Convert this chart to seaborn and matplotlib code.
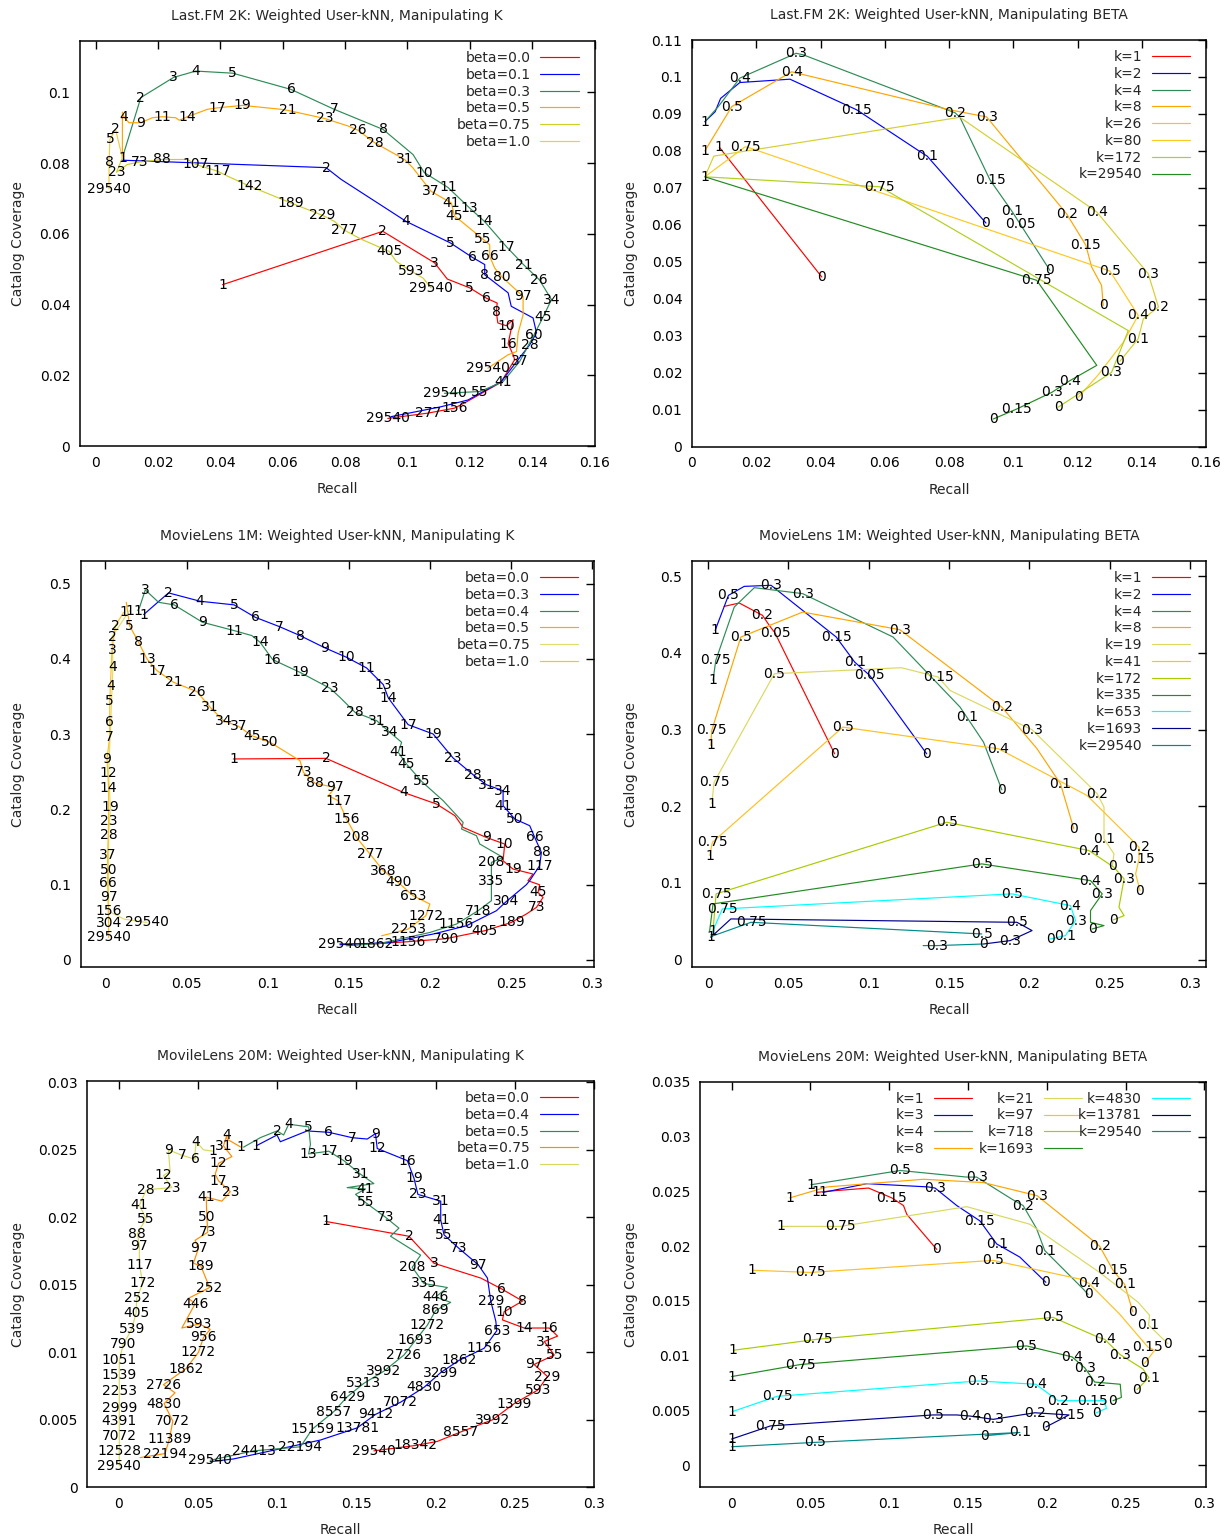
import matplotlib
matplotlib.use("Agg")
import matplotlib.pyplot as plt
import seaborn as sns
import pandas as pd
from matplotlib.ticker import FixedLocator, FuncFormatter
from matplotlib.legend import Legend

sns.set_style("white")
plt.rcParams['font.family'] = ['DejaVu Sans']

# ---------------- Panel 1: Last.FM 2K, manipulating K ----------------
P1_B00_X = [0.0407, 0.0921, 0.1087, 0.1128, 0.1200, 0.1253, 0.1288, 0.1285, 0.1290, 0.1317, 0.1339, 0.1323, 0.1339, 0.1344, 0.1300, 0.1190, 0.1151, 0.1066, 0.0937]
P1_B00_Y = [0.0456, 0.0607, 0.0518, 0.0472, 0.0447, 0.0418, 0.0404, 0.0380, 0.0348, 0.0340, 0.0357, 0.0289, 0.0258, 0.0244, 0.0180, 0.0125, 0.0107, 0.0093, 0.0078]
P1_B00_L = ['1', '2', '3', '', '5', '6', '', '8', '', '10', '', '16', '', '', '', '', '156', '277', '29540']

P1_B01_X = [0.0086, 0.0739, 0.0787, 0.0996, 0.1138, 0.1207, 0.1248, 0.1248, 0.1323, 0.1333, 0.1403, 0.1414, 0.1392, 0.1355, 0.1301, 0.1194, 0.1108, 0.0948]
P1_B01_Y = [0.0808, 0.0787, 0.0754, 0.0635, 0.0574, 0.0534, 0.0513, 0.0484, 0.0433, 0.0395, 0.0362, 0.0320, 0.0286, 0.0244, 0.0182, 0.0130, 0.0111, 0.0083]
P1_B01_L = ['', '2', '', '4', '5', '6', '', '8', '', '', '', '', '28', '', '', '', '', '']

P1_B03_X = [0.0086, 0.0145, 0.0250, 0.0321, 0.0440, 0.0627, 0.0765, 0.0922, 0.1018, 0.1054, 0.1130, 0.1198, 0.1247, 0.1317, 0.1372, 0.1423, 0.1462, 0.1436, 0.1406, 0.1360, 0.1307, 0.1232, 0.1119]
P1_B03_Y = [0.0815, 0.0985, 0.1042, 0.1060, 0.1054, 0.1008, 0.0952, 0.0895, 0.0824, 0.0773, 0.0731, 0.0674, 0.0635, 0.0564, 0.0513, 0.0470, 0.0414, 0.0366, 0.0314, 0.0239, 0.0182, 0.0154, 0.0149]
P1_B03_L = ['1', '2', '3', '4', '5', '6', '7', '8', '', '10', '11', '13', '14', '17', '21', '26', '34', '45', '60', '37', '41', '55', '29540']

P1_B05_X = [0.0086, 0.0086, 0.0091, 0.0107, 0.0145, 0.0182, 0.0214, 0.0257, 0.0268, 0.0295, 0.0359, 0.0391, 0.0471, 0.0594, 0.0616, 0.0734, 0.0809, 0.0841, 0.0894, 0.0991, 0.1017, 0.1076, 0.1141, 0.1151, 0.1173, 0.1242, 0.1264, 0.1264, 0.1280, 0.1303, 0.1371, 0.1371, 0.1355, 0.1350, 0.1323, 0.1258]
P1_B05_Y = [0.0815, 0.0944, 0.0931, 0.0914, 0.0914, 0.0928, 0.0931, 0.0928, 0.0921, 0.0931, 0.0952, 0.0956, 0.0963, 0.0952, 0.0949, 0.0926, 0.0905, 0.0893, 0.0858, 0.0810, 0.0787, 0.0720, 0.0687, 0.0650, 0.0635, 0.0585, 0.0569, 0.0536, 0.0503, 0.0478, 0.0423, 0.0371, 0.0319, 0.0267, 0.0258, 0.0220]
P1_B05_L = ['', '', '4', '', '9', '', '11', '', '', '14', '', '17', '19', '', '21', '23', '', '26', '28', '31', '', '37', '41', '45', '', '55', '', '66', '', '80', '97', '', '', '', '', '29540']

P1_B075_X = [0.0086, 0.0067, 0.0102, 0.0142, 0.0214, 0.0295, 0.0321, 0.0391, 0.0423, 0.0493, 0.0627, 0.0728, 0.0766, 0.0798, 0.0851, 0.0942, 0.0964, 0.1012, 0.1050, 0.1076]
P1_B075_Y = [0.0815, 0.0774, 0.0796, 0.0803, 0.0810, 0.0810, 0.0796, 0.0777, 0.0763, 0.0735, 0.0687, 0.0652, 0.0635, 0.0610, 0.0585, 0.0550, 0.0522, 0.0494, 0.0475, 0.0447]
P1_B075_L = ['', '23', '', '73', '88', '', '107', '117', '', '142', '189', '229', '', '277', '', '405', '', '593', '', '29540']

P1_B10_X = [0.0086, 0.0064, 0.0046, 0.0043, 0.0043, 0.0043]
P1_B10_Y = [0.0815, 0.0895, 0.0867, 0.0803, 0.0760, 0.0727]
P1_B10_L = ['', '2', '5', '8', '', '29540']

# ---------------- Panel 2: Last.FM 2K, manipulating BETA ----------------
P2_K1_X = [0.0085, 0.0404]
P2_K1_Y = [0.0810, 0.0459]
P2_K1_L = ['1', '0']

P2_K2_X = [0.0040, 0.0072, 0.0089, 0.0149, 0.0305, 0.0513, 0.0710, 0.0732, 0.0834, 0.0915]
P2_K2_Y = [0.0879, 0.0906, 0.0942, 0.0985, 0.0994, 0.0911, 0.0798, 0.0786, 0.0685, 0.0605]
P2_K2_L = ['1', '', '', '', '', '0.15', '', '0.1', '', '0']

P2_K4_X = [0.0040, 0.0082, 0.0149, 0.0324, 0.0346, 0.0819, 0.0834, 0.0928, 0.0995, 0.1021, 0.1114]
P2_K4_Y = [0.0879, 0.0920, 0.0997, 0.1064, 0.1060, 0.0903, 0.0891, 0.0721, 0.0638, 0.0603, 0.0477]
P2_K4_L = ['', '', '0.4', '0.3', '', '0.2', '', '0.15', '0.1', '0.05', '0']

P2_K8_X = [0.0040, 0.0124, 0.0310, 0.0803, 0.0917, 0.1166, 0.1226, 0.1244, 0.1275, 0.1280]
P2_K8_Y = [0.0800, 0.0920, 0.1014, 0.0911, 0.0892, 0.0630, 0.0545, 0.0486, 0.0436, 0.0382]
P2_K8_L = ['1', '0.5', '0.4', '', '0.3', '0.2', '0.15', '', '', '0']

P2_K26_X = [0.0040, 0.0068, 0.0834, 0.1260, 0.1420, 0.1452, 0.1405, 0.1389, 0.1332]
P2_K26_Y = [0.0730, 0.0786, 0.0891, 0.0635, 0.0468, 0.0378, 0.0346, 0.0292, 0.0231]
P2_K26_L = ['1', '', '', '0.4', '0.3', '0.2', '', '0.1', '0']

P2_K80_X = [0.0040, 0.0165, 0.0180, 0.1301, 0.1389, 0.1343, 0.1265, 0.1203]
P2_K80_Y = [0.0730, 0.0811, 0.0808, 0.0475, 0.0355, 0.0283, 0.0195, 0.0134]
P2_K80_L = ['', '0.75', '', '0.5', '0.4', '', '', '0']

P2_K172_X = [0.0040, 0.0585, 0.1358, 0.1306, 0.1140]
P2_K172_Y = [0.0730, 0.0703, 0.0314, 0.0201, 0.0107]
P2_K172_L = ['', '0.75', '', '0.3', '0']

P2_K29540_X = [0.0040, 0.1073, 0.1260, 0.1177, 0.1120, 0.1011, 0.0938]
P2_K29540_Y = [0.0730, 0.0450, 0.0220, 0.0179, 0.0147, 0.0102, 0.0075]
P2_K29540_L = ['', '0.75', '', '0.4', '0.3', '0.15', '0']

# ---------------- Panel 3: MovieLens 1M, manipulating K ----------------
P3_B00_X = [0.0789, 0.1359, 0.1835, 0.2040, 0.2153, 0.2204, 0.2347, 0.2460, 0.2450, 0.2511, 0.2634, 0.2603, 0.2675, 0.2665, 0.2696, 0.2655, 0.2593, 0.2501, 0.2337, 0.2097, 0.1863, 0.1667, 0.1445]
P3_B00_Y = [0.2669, 0.2677, 0.2225, 0.2070, 0.1915, 0.1759, 0.1626, 0.1538, 0.1316, 0.1206, 0.1140, 0.1051, 0.0997, 0.0895, 0.0828, 0.0695, 0.0608, 0.0496, 0.0386, 0.0280, 0.0240, 0.0213, 0.0213]
P3_B00_L = ['1', '2', '4', '5', '', '', '9', '10', '', '19', '', '', '', '45', '', '73', '', '189', '405', '790', '1156', '1862', '29540']

P3_B03_X = [0.0236, 0.0389, 0.0584, 0.0793, 0.0923, 0.1072, 0.1199, 0.1353, 0.1486, 0.1609, 0.1712, 0.1743, 0.1865, 0.2019, 0.2142, 0.2265, 0.2347, 0.2450, 0.2450, 0.2522, 0.2614, 0.2645, 0.2686, 0.2675, 0.2614, 0.2593, 0.2470, 0.2409, 0.2224, 0.2019, 0.1753, 0.1445]
P3_B03_Y = [0.4588, 0.4876, 0.4765, 0.4717, 0.4552, 0.4428, 0.4309, 0.4145, 0.4020, 0.3879, 0.3657, 0.3480, 0.3125, 0.3001, 0.2682, 0.2460, 0.2327, 0.2247, 0.2048, 0.1871, 0.1782, 0.1626, 0.1427, 0.1250, 0.1051, 0.0997, 0.0775, 0.0652, 0.0452, 0.0342, 0.0230, 0.0200]
P3_B03_L = ['1', '2', '4', '5', '6', '7', '8', '9', '10', '11', '13', '14', '17', '19', '23', '28', '31', '34', '41', '50', '', '66', '88', '117', '', '', '304', '', '', '', '', '']

P3_B04_X = [0.0199, 0.0211, 0.0246, 0.0328, 0.0424, 0.0598, 0.0793, 0.0902, 0.0953, 0.1031, 0.1199, 0.1384, 0.1445, 0.1538, 0.1671, 0.1753, 0.1825, 0.1804, 0.1855, 0.1948, 0.2081, 0.2204, 0.2194, 0.2286, 0.2306, 0.2450, 0.2378, 0.2378, 0.2378, 0.2296, 0.2163, 0.1999, 0.1691, 0.1486]
P3_B04_Y = [0.4641, 0.4685, 0.4916, 0.4751, 0.4717, 0.4486, 0.4375, 0.4309, 0.4220, 0.3989, 0.3820, 0.3608, 0.3488, 0.3289, 0.3178, 0.3023, 0.2890, 0.2757, 0.2602, 0.2371, 0.2114, 0.1826, 0.1738, 0.1649, 0.1539, 0.1360, 0.1294, 0.1041, 0.0785, 0.0652, 0.0475, 0.0363, 0.0217, 0.0186]
P3_B04_L = ['1', '', '3', '', '6', '9', '11', '', '14', '16', '19', '23', '', '28', '31', '34', '', '41', '45', '55', '', '', '', '', '', '', '208', '335', '', '718', '1156', '', '', '']

P3_B05_X = [0.0129, 0.0149, 0.0205, 0.0256, 0.0318, 0.0420, 0.0564, 0.0646, 0.0728, 0.0820, 0.0902, 0.1015, 0.1199, 0.1220, 0.1292, 0.1415, 0.1374, 0.1435, 0.1486, 0.1547, 0.1630, 0.1712, 0.1804, 0.1896, 0.1999, 0.1974, 0.1865, 0.1702]
P3_B05_Y = [0.4752, 0.4441, 0.4220, 0.3999, 0.3843, 0.3688, 0.3564, 0.3355, 0.3178, 0.3103, 0.2979, 0.2890, 0.2646, 0.2491, 0.2345, 0.2291, 0.2180, 0.2114, 0.1871, 0.1626, 0.1406, 0.1184, 0.1028, 0.0851, 0.0741, 0.0585, 0.0408, 0.0319]
P3_B05_L = ['', '5', '8', '13', '17', '21', '26', '31', '34', '37', '45', '50', '', '73', '88', '97', '', '117', '156', '208', '277', '368', '490', '653', '', '1272', '2253', '']

P3_B075_X = [0.0149, 0.0041, 0.0047, 0.0020, 0.0031, 0.0020, 0.0020, 0.0020, 0.0020, 0.0082, 0.0113, 0.0256]
P3_B075_Y = [0.4641, 0.4295, 0.3896, 0.2478, 0.2025, 0.1662, 0.1193, 0.0829, 0.0643, 0.0580, 0.0541, 0.0496]
P3_B075_L = ['1', '2', '4', '12', '19', '28', '50', '97', '156', '', '', '29540']

P3_B10_X = [0.0113, 0.0062, 0.0041, 0.0031, 0.0027, 0.0027, 0.0027, 0.0010, 0.0020, 0.0020, 0.0014, 0.0014, 0.0020, 0.0020]
P3_B10_Y = [0.4619, 0.4441, 0.4118, 0.3644, 0.3435, 0.3165, 0.2965, 0.2669, 0.2283, 0.1839, 0.1396, 0.1015, 0.0483, 0.0297]
P3_B10_L = ['1', '2', '3', '4', '5', '6', '7', '9', '14', '23', '37', '66', '304', '29540']

# ---------------- Panel 4: MovieLens 1M, manipulating BETA ----------------
P4_K1_X = [0.0100, 0.0194, 0.0339, 0.0381, 0.0417, 0.0788]
P4_K1_Y = [0.4608, 0.4652, 0.4491, 0.4360, 0.4260, 0.2685]
P4_K1_L = ['', '', '0.2', '', '0.05', '0']

P4_K2_X = [0.0044, 0.0127, 0.0225, 0.0392, 0.0798, 0.0913, 0.1006, 0.1361]
P4_K2_Y = [0.4295, 0.4752, 0.4869, 0.4883, 0.4208, 0.3881, 0.3708, 0.2685]
P4_K2_L = ['1', '0.5', '', '0.3', '0.15', '0.1', '0.05', '0']

P4_K4_X = [0.0031, 0.0048, 0.0163, 0.0288, 0.0589, 0.1152, 0.1569, 0.1611, 0.1715, 0.1829]
P4_K4_Y = [0.3642, 0.3903, 0.4599, 0.4852, 0.4774, 0.4208, 0.3294, 0.3163, 0.2837, 0.2215]
P4_K4_L = ['1', '0.75', '', '', '0.3', '', '', '0.1', '', '0']

P4_K8_X = [0.0017, 0.0023, 0.0204, 0.0589, 0.1194, 0.1569, 0.1829, 0.2048, 0.2194, 0.2277]
P4_K8_Y = [0.2794, 0.2990, 0.4208, 0.4534, 0.4304, 0.3708, 0.3294, 0.2751, 0.2294, 0.1706]
P4_K8_L = ['1', '0.75', '0.5', '', '0.3', '', '0.2', '', '0.1', '0']

P4_K19_X = [0.0023, 0.0038, 0.0413, 0.1204, 0.1433, 0.1506, 0.2017, 0.2360, 0.2423, 0.2465, 0.2465, 0.2527, 0.2517]
P4_K19_Y = [0.2033, 0.2315, 0.3730, 0.3808, 0.3686, 0.3512, 0.2999, 0.2294, 0.2163, 0.1989, 0.1576, 0.1380, 0.1227]
P4_K19_L = ['1', '0.75', '0.5', '', '0.15', '', '0.3', '', '0.2', '', '0.1', '', '0']

P4_K41_X = [0.0010, 0.0027, 0.0839, 0.1506, 0.1808, 0.2360, 0.2642, 0.2683, 0.2683, 0.2662, 0.2689]
P4_K41_Y = [0.1358, 0.1531, 0.3033, 0.2837, 0.2751, 0.2141, 0.1554, 0.1466, 0.1315, 0.1119, 0.0901]
P4_K41_L = ['1', '0.75', '0.5', '', '0.4', '', '', '0.2', '0.15', '', '0']

P4_K172_X = [0.0031, 0.0050, 0.1486, 0.2371, 0.2527, 0.2590, 0.2558, 0.2590, 0.2523]
P4_K172_Y = [0.0380, 0.0858, 0.1792, 0.1423, 0.1205, 0.1053, 0.0683, 0.0574, 0.0518]
P4_K172_L = ['1', '0.75', '0.5', '0.4', '', '0.3', '', '', '0']

P4_K335_X = [0.0010, 0.0031, 0.1704, 0.2381, 0.2454, 0.2381, 0.2381, 0.2465, 0.2392]
P4_K335_Y = [0.0379, 0.0727, 0.1249, 0.1031, 0.0858, 0.0640, 0.0487, 0.0444, 0.0400]
P4_K335_L = ['', '', '0.5', '0.4', '0.3', '', '', '', '0']

P4_K653_X = [0.0017, 0.0089, 0.1892, 0.2256, 0.2288, 0.2225, 0.2131]
P4_K653_Y = [0.0313, 0.0661, 0.0858, 0.0705, 0.0509, 0.0313, 0.0270]
P4_K653_L = ['', '0.75', '0.5', '0.4', '0.3', '0.1', '0']

P4_K1693_X = [0.0017, 0.0142, 0.1923, 0.2017, 0.1881, 0.1715]
P4_K1693_Y = [0.0291, 0.0531, 0.0487, 0.0379, 0.0248, 0.0204]
P4_K1693_L = ['1', '', '0.5', '', '0.3', '0']

P4_K29540_X = [0.0017, 0.0267, 0.1704]
P4_K29540_Y = [0.0300, 0.0487, 0.0335]
P4_K29540_L = ['', '0.75', '0.5']
P4_K29540B_X = [0.1339, 0.1423, 0.1715]
P4_K29540B_Y = [0.0183, 0.0183, 0.0204]
P4_K29540B_L = ['', '0.3', '']

# ---------------- Panel 5: MovieLens 20M, manipulating K ----------------
P5_B00_X = [0.1304, 0.1831, 0.1989, 0.2285, 0.2416, 0.2549, 0.2432, 0.2422, 0.2559, 0.2717, 0.2770, 0.2686, 0.2749, 0.2622, 0.2707, 0.2644, 0.2496, 0.2359, 0.2158, 0.2011, 0.1873, 0.1610]
P5_B00_Y = [0.0197, 0.0186, 0.0166, 0.0155, 0.0147, 0.0138, 0.0130, 0.0124, 0.0118, 0.0118, 0.0112, 0.0108, 0.0098, 0.0091, 0.0082, 0.0072, 0.0062, 0.0050, 0.0041, 0.0034, 0.0031, 0.0027]
P5_B00_L = ['1', '2', '3', '', '6', '8', '10', '', '14', '16', '', '31', '55', '97', '229', '593', '1399', '3992', '8557', '', '18342', '29540']

P5_B04_X = [0.0867, 0.0998, 0.1019, 0.1188, 0.1325, 0.1473, 0.1568, 0.1620, 0.1631, 0.1821, 0.1863, 0.1888, 0.2032, 0.2032, 0.2053, 0.2147, 0.2268, 0.2327, 0.2348, 0.2380, 0.2386, 0.2306, 0.2147, 0.2032, 0.1926, 0.1778, 0.1620, 0.1504, 0.1272, 0.0723, 0.0576]
P5_B04_Y = [0.0253, 0.0261, 0.0256, 0.0264, 0.0263, 0.0259, 0.0258, 0.0262, 0.0251, 0.0242, 0.0229, 0.0217, 0.0212, 0.0198, 0.0187, 0.0177, 0.0165, 0.0155, 0.0138, 0.0123, 0.0116, 0.0103, 0.0094, 0.0085, 0.0074, 0.0063, 0.0054, 0.0044, 0.0035, 0.0021, 0.0019]
P5_B04_L = ['1', '', '', '', '6', '7', '', '9', '12', '16', '19', '23', '31', '41', '55', '73', '97', '', '229', '', '653', '1156', '1862', '3299', '4830', '7072', '9412', '13781', '', '', '']

P5_B05_X = [0.0787, 0.0892, 0.0998, 0.1040, 0.1072, 0.1198, 0.1209, 0.1198, 0.1325, 0.1420, 0.1525, 0.1610, 0.1441, 0.1557, 0.1494, 0.1557, 0.1684, 0.1768, 0.1715, 0.1905, 0.1852, 0.1926, 0.2074, 0.2000, 0.2095, 0.2000, 0.1947, 0.1873, 0.1800, 0.1673, 0.1546, 0.1441, 0.1356, 0.1220, 0.1146, 0.0850, 0.0576]
P5_B05_Y = [0.0252, 0.0259, 0.0264, 0.0261, 0.0269, 0.0267, 0.0254, 0.0247, 0.0249, 0.0242, 0.0232, 0.0225, 0.0222, 0.0221, 0.0217, 0.0211, 0.0200, 0.0192, 0.0186, 0.0172, 0.0163, 0.0151, 0.0148, 0.0141, 0.0137, 0.0131, 0.0120, 0.0109, 0.0098, 0.0086, 0.0077, 0.0067, 0.0056, 0.0043, 0.0030, 0.0027, 0.0020]
P5_B05_L = ['', '', '2', '', '4', '5', '', '13', '17', '19', '31', '', '', '41', '', '55', '73', '', '', '', '208', '335', '', '446', '', '869', '1272', '1693', '2726', '3992', '5313', '6429', '8557', '15159', '22194', '24413', '29540']

P5_B075_X = [0.0770, 0.0682, 0.0682, 0.0660, 0.0713, 0.0629, 0.0608, 0.0629, 0.0703, 0.0650, 0.0551, 0.0555, 0.0561, 0.0481, 0.0502, 0.0470, 0.0517, 0.0555, 0.0572, 0.0439, 0.0481, 0.0397, 0.0508, 0.0576, 0.0534, 0.0502, 0.0424, 0.0281, 0.0354, 0.0285, 0.0340, 0.0319, 0.0291, 0.0133]
P5_B075_Y = [0.0252, 0.0258, 0.0261, 0.0253, 0.0245, 0.0240, 0.0232, 0.0227, 0.0219, 0.0212, 0.0215, 0.0200, 0.0189, 0.0183, 0.0177, 0.0166, 0.0164, 0.0153, 0.0148, 0.0140, 0.0136, 0.0118, 0.0121, 0.0117, 0.0111, 0.0100, 0.0088, 0.0076, 0.0070, 0.0062, 0.0049, 0.0036, 0.0025, 0.0022]
P5_B075_L = ['1', '', '4', '31', '', '12', '', '17', '23', '', '41', '50', '73', '', '97', '', '189', '', '252', '', '446', '', '593', '', '956', '1272', '1862', '2726', '', '4830', '7072', '11389', '22194', '']

P5_B10_X = [0.0593, 0.0534, 0.0487, 0.0481, 0.0481, 0.0397, 0.0312, 0.0323, 0.0281, 0.0334, 0.0228, 0.0171, 0.0129, 0.0171, 0.0116, 0.0129, 0.0129, 0.0150, 0.0112, 0.0108, 0.0080, 0.0027, 0.0002, 0.0002, 0.0002, 0.0002, 0.0002, 0.0002, 0.0002, 0.0002]
P5_B10_Y = [0.0249, 0.0250, 0.0256, 0.0248, 0.0243, 0.0246, 0.0250, 0.0234, 0.0231, 0.0222, 0.0221, 0.0220, 0.0209, 0.0199, 0.0188, 0.0179, 0.0165, 0.0151, 0.0140, 0.0129, 0.0117, 0.0106, 0.0094, 0.0083, 0.0071, 0.0059, 0.0049, 0.0038, 0.0027, 0.0016]
P5_B10_L = ['1', '', '4', '', '6', '7', '9', '', '12', '23', '', '28', '41', '55', '88', '97', '117', '172', '252', '405', '539', '790', '1051', '1539', '2253', '2999', '4391', '7072', '12528', '29540']

# ---------------- Panel 6: MovieLens 20M, manipulating BETA ----------------
P6_K1_X = [0.0538, 0.0606, 0.0869, 0.1017, 0.1091, 0.1112, 0.1302]
P6_K1_Y = [0.0249, 0.0250, 0.0253, 0.0244, 0.0237, 0.0229, 0.0197]
P6_K1_L = ['1', '', '', '0.15', '', '', '0']

P6_K3_X = [0.0580, 0.0859, 0.1249, 0.1291, 0.1429, 0.1576, 0.1682, 0.1829, 0.1994]
P6_K3_Y = [0.0249, 0.0257, 0.0254, 0.0253, 0.0237, 0.0223, 0.0202, 0.0190, 0.0167]
P6_K3_L = ['1', '', '', '0.3', '', '0.15', '0.1', '', '0']

P6_K4_X = [0.0504, 0.1070, 0.1492, 0.1555, 0.1777, 0.1850, 0.1935, 0.1987, 0.2230, 0.2262]
P6_K4_Y = [0.0256, 0.0269, 0.0263, 0.0263, 0.0243, 0.0237, 0.0216, 0.0196, 0.0161, 0.0156]
P6_K4_L = ['1', '0.5', '', '0.3', '', '0.2', '', '0.1', '', '0']

P6_K8_X = [0.0369, 0.0606, 0.1217, 0.1597, 0.1939, 0.2293, 0.2335, 0.2420, 0.2494, 0.2546]
P6_K8_Y = [0.0244, 0.0254, 0.0261, 0.0258, 0.0246, 0.0205, 0.0200, 0.0178, 0.0165, 0.0140]
P6_K8_L = ['1', '', '', '', '0.3', '', '0.2', '0.15', '0.1', '0']

P6_K21_X = [0.0315, 0.0690, 0.1449, 0.1492, 0.1892, 0.2335, 0.2578, 0.2652, 0.2646, 0.2768]
P6_K21_Y = [0.0218, 0.0218, 0.0235, 0.0236, 0.0220, 0.0176, 0.0149, 0.0137, 0.0128, 0.0111]
P6_K21_L = ['1', '0.75', '', '', '', '', '', '', '0.1', '0']

P6_K97_X = [0.0131, 0.0500, 0.1660, 0.2209, 0.2268, 0.2462, 0.2641, 0.2684, 0.2620]
P6_K97_Y = [0.0178, 0.0176, 0.0187, 0.0170, 0.0166, 0.0138, 0.0108, 0.0105, 0.0093]
P6_K97_L = ['1', '0.75', '0.5', '', '0.4', '', '0.15', '', '0']

P6_K718_X = [0.0011, 0.0542, 0.2040, 0.2325, 0.2367, 0.2466, 0.2610, 0.2647, 0.2572]
P6_K718_Y = [0.0105, 0.0115, 0.0135, 0.0117, 0.0115, 0.0101, 0.0088, 0.0080, 0.0069]
P6_K718_L = ['1', '0.75', '0.5', '', '0.4', '0.3', '', '0.1', '0']

P6_K1693_X = [0.0000, 0.0437, 0.1871, 0.2160, 0.2241, 0.2304, 0.2466, 0.2473, 0.2420]
P6_K1693_Y = [0.0081, 0.0092, 0.0109, 0.0099, 0.0089, 0.0076, 0.0074, 0.0062, 0.0059]
P6_K1693_L = ['1', '0.75', '0.5', '0.4', '0.3', '0.2', '', '', '0']

P6_K4830_X = [0.0004, 0.0289, 0.1565, 0.1930, 0.2072, 0.2293, 0.2367, 0.2378, 0.2315]
P6_K4830_Y = [0.0049, 0.0063, 0.0077, 0.0074, 0.0059, 0.0059, 0.0059, 0.0052, 0.0048]
P6_K4830_L = ['1', '0.75', '0.5', '0.4', '0.2', '0.15', '', '', '0']

P6_K13781_X = [0.0000, 0.0247, 0.1277, 0.1428, 0.1513, 0.1660, 0.1924, 0.2141, 0.1994]
P6_K13781_Y = [0.0024, 0.0036, 0.0046, 0.0046, 0.0045, 0.0042, 0.0048, 0.0046, 0.0035]
P6_K13781_L = ['1', '0.75', '0.5', '', '0.4', '0.3', '0.2', '0.15', '0']

P6_K29540_X = [0.0000, 0.0532, 0.1829, 0.1608]
P6_K29540_Y = [0.0017, 0.0021, 0.0030, 0.0027]
P6_K29540_L = ['1', '0.5', '0.1', '0']

# ---------------- colours ----------------
RED, BLUE, SEAGREEN, ORANGE = '#ff0000', '#0000ff', '#2e8b57', '#ffa500'

FIG_W, FIG_H = 1231, 1537


def rect(l, t, r, b):
    return [l / FIG_W, 1 - b / FIG_H, (r - l) / FIG_W, (b - t) / FIG_H]


panels = [
    dict(rect=rect(80, 41, 594.5, 446), title="Last.FM 2K: Weighted User-kNN, Manipulating K",
         xlim=(-0.005, 0.16), ylim=(0, 0.1145), xstep=0.02, ystep=0.02, ylab_dx=-55, legcols=None,
         series=[("beta=0.0", P1_B00_X, P1_B00_Y, P1_B00_L, RED),
                 ("beta=0.1", P1_B01_X, P1_B01_Y, P1_B01_L, BLUE),
                 ("beta=0.3", P1_B03_X, P1_B03_Y, P1_B03_L, SEAGREEN),
                 ("beta=0.5", P1_B05_X, P1_B05_Y, P1_B05_L, ORANGE),
                 ("beta=0.75", P1_B075_X, P1_B075_Y, P1_B075_L, '#cfcf2a'),
                 ("beta=1.0", P1_B10_X, P1_B10_Y, P1_B10_L, '#f0cc40')]),
    dict(rect=rect(692, 40, 1206, 446.7), title="Last.FM 2K: Weighted User-kNN, Manipulating BETA",
         xlim=(0, 0.16), ylim=(0, 0.11), xstep=0.02, ystep=0.01, ylab_dx=-54, legcols=None,
         series=[("k=1", P2_K1_X, P2_K1_Y, P2_K1_L, RED),
                 ("k=2", P2_K2_X, P2_K2_Y, P2_K2_L, BLUE),
                 ("k=4", P2_K4_X, P2_K4_Y, P2_K4_L, SEAGREEN),
                 ("k=8", P2_K8_X, P2_K8_Y, P2_K8_L, ORANGE),
                 ("k=26", P2_K26_X, P2_K26_Y, P2_K26_L, '#d4d030'),
                 ("k=80", P2_K80_X, P2_K80_Y, P2_K80_L, '#ffc820'),
                 ("k=172", P2_K172_X, P2_K172_Y, P2_K172_L, '#b0d020'),
                 ("k=29540", P2_K29540_X, P2_K29540_Y, P2_K29540_L, '#228b22')]),
    dict(rect=rect(81, 561, 594, 967.3), title="MovieLens 1M: Weighted User-kNN, Manipulating K",
         xlim=(-0.015, 0.301), ylim=(-0.01, 0.53), xstep=0.05, ystep=0.1, ylab_dx=-56, legcols=None,
         series=[("beta=0.0", P3_B00_X, P3_B00_Y, P3_B00_L, RED),
                 ("beta=0.3", P3_B03_X, P3_B03_Y, P3_B03_L, BLUE),
                 ("beta=0.4", P3_B04_X, P3_B04_Y, P3_B04_L, SEAGREEN),
                 ("beta=0.5", P3_B05_X, P3_B05_Y, P3_B05_L, ORANGE),
                 ("beta=0.75", P3_B075_X, P3_B075_Y, P3_B075_L, '#e2dc70'),
                 ("beta=1.0", P3_B10_X, P3_B10_Y, P3_B10_L, '#ffc020')]),
    dict(rect=rect(692, 561, 1206, 967.3), title="MovieLens 1M: Weighted User-kNN, Manipulating BETA",
         xlim=(-0.01, 0.31), ylim=(-0.01, 0.52), xstep=0.05, ystep=0.1, ylab_dx=-54, legcols=None,
         series=[("k=1", P4_K1_X, P4_K1_Y, P4_K1_L, RED),
                 ("k=2", P4_K2_X, P4_K2_Y, P4_K2_L, BLUE),
                 ("k=4", P4_K4_X, P4_K4_Y, P4_K4_L, SEAGREEN),
                 ("k=8", P4_K8_X, P4_K8_Y, P4_K8_L, ORANGE),
                 ("k=19", P4_K19_X, P4_K19_Y, P4_K19_L, '#dcd860'),
                 ("k=41", P4_K41_X, P4_K41_Y, P4_K41_L, '#ffc020'),
                 ("k=172", P4_K172_X, P4_K172_Y, P4_K172_L, '#a8cc00'),
                 ("k=335", P4_K335_X, P4_K335_Y, P4_K335_L, '#228b22'),
                 ("k=653", P4_K653_X, P4_K653_Y, P4_K653_L, '#00ffff'),
                 ("k=1693", P4_K1693_X, P4_K1693_Y, P4_K1693_L, '#00008b'),
                 ("k=29540", P4_K29540_X, P4_K29540_Y, P4_K29540_L, '#008b8b'),
                 ("_nolegend_", P4_K29540B_X, P4_K29540B_Y, P4_K29540B_L, '#008b8b')]),
    dict(rect=rect(87.3, 1081, 594, 1487.3), title="MovileLens 20M: Weighted User-kNN, Manipulating K",
         xlim=(-0.02, 0.3), ylim=(0, 0.0301), xstep=0.05, ystep=0.005, ylab_dx=-62, legcols=None,
         series=[("beta=0.0", P5_B00_X, P5_B00_Y, P5_B00_L, RED),
                 ("beta=0.4", P5_B04_X, P5_B04_Y, P5_B04_L, BLUE),
                 ("beta=0.5", P5_B05_X, P5_B05_Y, P5_B05_L, SEAGREEN),
                 ("beta=0.75", P5_B075_X, P5_B075_Y, P5_B075_L, '#ff8c00'),
                 ("beta=1.0", P5_B10_X, P5_B10_Y, P5_B10_L, '#d8d860')]),
    dict(rect=rect(700, 1081.7, 1206, 1487.3), title="MovieLens 20M: Weighted User-kNN, Manipulating BETA",
         xlim=(-0.02, 0.301), ylim=(-0.002, 0.035), xstep=0.05, ystep=0.005, ylab_dx=-62,
         legcols=[(0, 4, 272), (4, 8, 382), (8, 11, 490)],
         series=[("k=1", P6_K1_X, P6_K1_Y, P6_K1_L, RED),
                 ("k=3", P6_K3_X, P6_K3_Y, P6_K3_L, BLUE),
                 ("k=4", P6_K4_X, P6_K4_Y, P6_K4_L, SEAGREEN),
                 ("k=8", P6_K8_X, P6_K8_Y, P6_K8_L, ORANGE),
                 ("k=21", P6_K21_X, P6_K21_Y, P6_K21_L, '#d8d860'),
                 ("k=97", P6_K97_X, P6_K97_Y, P6_K97_L, '#ffc020'),
                 ("k=718", P6_K718_X, P6_K718_Y, P6_K718_L, '#a8cc00'),
                 ("k=1693", P6_K1693_X, P6_K1693_Y, P6_K1693_L, '#228b22'),
                 ("k=4830", P6_K4830_X, P6_K4830_Y, P6_K4830_L, '#00ffff'),
                 ("k=13781", P6_K13781_X, P6_K13781_Y, P6_K13781_L, '#00008b'),
                 ("k=29540", P6_K29540_X, P6_K29540_Y, P6_K29540_L, '#008b8b')]),
]


def ticks_between(lo, hi, step):
    out = []
    i = 0
    while True:
        v = round(i * step, 6)
        if v > hi + 1e-9:
            break
        if v >= lo - 1e-9:
            out.append(v)
        i += 1
    return out


LEG_KW = dict(frameon=False, markerfirst=False, fontsize=10, handlelength=2.75,
              handletextpad=0.7, labelspacing=0.2, borderpad=0, borderaxespad=0)

fig = plt.figure(figsize=(FIG_W / 100, FIG_H / 100), dpi=100)
fig.patch.set_facecolor('white')

for p in panels:
    ax = fig.add_axes(p["rect"])
    ax.set_facecolor('white')
    for name, xs, ys, labs, col in p["series"]:
        n = min(len(xs), len(ys), len(labs))
        df = pd.DataFrame({"Recall": xs[:n], "Coverage": ys[:n]})
        sns.lineplot(data=df, x="Recall", y="Coverage", sort=False, estimator=None,
                     errorbar=None, color=col, linewidth=0.85, label=name, ax=ax)
        for x, y, s in zip(xs[:n], ys[:n], labs[:n]):
            if s:
                ax.text(x, y, s, ha='center', va='center', fontsize=10,
                        color='black', zorder=5)
    ax.set_xlim(*p["xlim"])
    ax.set_ylim(*p["ylim"])
    ax.xaxis.set_major_locator(FixedLocator(ticks_between(p["xlim"][0], p["xlim"][1], p["xstep"])))
    ax.yaxis.set_major_locator(FixedLocator(ticks_between(p["ylim"][0], p["ylim"][1], p["ystep"])))
    fmt = FuncFormatter(lambda v, pos: "%g" % round(v, 6))
    ax.xaxis.set_major_formatter(fmt)
    ax.yaxis.set_major_formatter(fmt)
    ax.tick_params(direction='in', length=6, width=1, top=True, right=True,
                   labelsize=10, colors='black', pad=7)
    for sp in ax.spines.values():
        sp.set_color('black')
        sp.set_linewidth(1.1)
        sp.set_visible(True)
    wpx = p["rect"][2] * FIG_W
    hpx = p["rect"][3] * FIG_H
    ax.set_title(p["title"], fontsize=10, pad=15)
    ax.set_xlabel("Recall", fontsize=10)
    ax.set_ylabel("Catalog Coverage", fontsize=10)
    ax.xaxis.set_label_coords(0.5, -36 / hpx)
    ax.yaxis.set_label_coords(p["ylab_dx"] / wpx, 0.5)
    handles, labels = ax.get_legend_handles_labels()
    if ax.get_legend() is not None:
        ax.get_legend().remove()
    if p["legcols"] is None:
        ax.legend(handles, labels, loc='upper right',
                  bbox_to_anchor=(1 - 16 / wpx, 1 - 10 / hpx), **LEG_KW)
    else:
        for i0, i1, xr in p["legcols"]:
            lg = Legend(ax, handles[i0:i1], labels[i0:i1], loc='upper right',
                        bbox_to_anchor=(xr / wpx, 1 - 10 / hpx),
                        bbox_transform=ax.transAxes, **LEG_KW)
            ax.add_artist(lg)

fig.savefig("out.png", dpi=100, facecolor='white')
